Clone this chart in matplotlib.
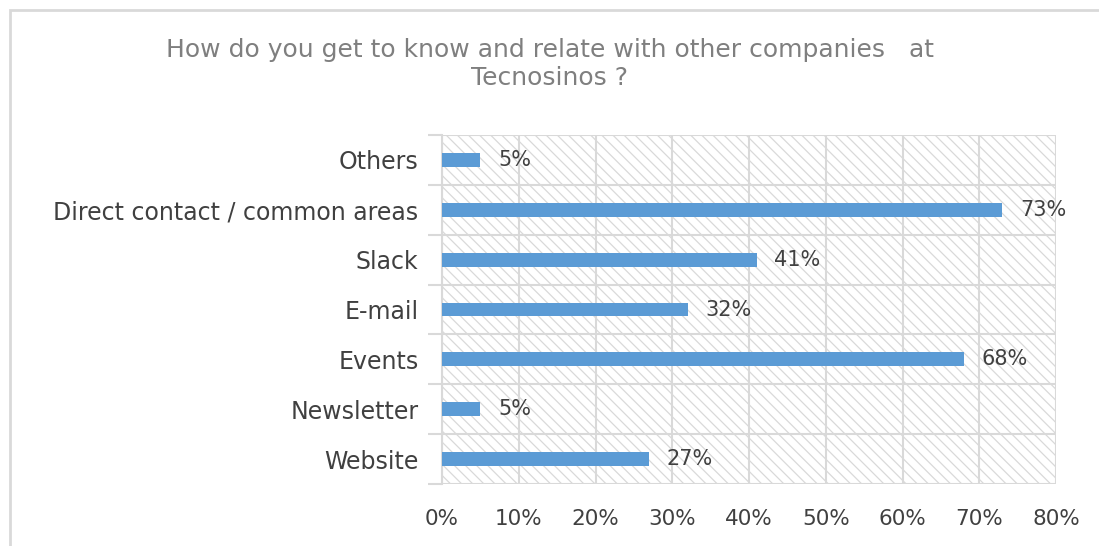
import matplotlib.pyplot as plt
from matplotlib.patches import Rectangle
from matplotlib.ticker import FuncFormatter

# ---------------------------------------------------------------- data
categories = ['Website', 'Newsletter', 'Events', 'E-mail', 'Slack',
              'Direct contact / common areas', 'Others']
values = [27, 5, 68, 32, 41, 73, 5]
x_ticks = [0, 10, 20, 30, 40, 50, 60, 70, 80]

C_BAR, C_GRID, C_TEXT, C_TITLE = '#5B9BD5', '#D9D9D9', '#404040', '#7F7F7F'

plt.rcParams['font.family'] = ['DejaVu Sans']
plt.rcParams['hatch.color'] = '#C8C8C8'
plt.rcParams['hatch.linewidth'] = 0.9

fig = plt.figure(figsize=(10.99, 5.46), dpi=100)
ax = fig.add_axes([442 / 1099, 62 / 546, 614 / 1099, 349 / 546])

# chart border (open at right / bottom, as cropped in the reference)
fig.patches.append(Rectangle((10 / 1099, -0.1), 1.2, 1 - 10 / 546 + 0.1,
                             transform=fig.transFigure, fill=False,
                             edgecolor='#D9D9D9', linewidth=2))

# hatched plot background
ax.add_patch(Rectangle((0, 0), 1, 1, transform=ax.transAxes, facecolor='white',
                       edgecolor=C_GRID, hatch='\\\\\\', linewidth=0, zorder=0))

y = range(len(categories))
ax.barh(y, values, height=0.28, color=C_BAR, zorder=3)
for yi, v in zip(y, values):
    ax.text(v + 2.3, yi, f'{v}%', va='center', ha='left', fontsize=15,
            color=C_TEXT, zorder=4)

ax.set_xlim(0, 80)
ax.set_ylim(-0.5, len(categories) - 0.5)
ax.set_xticks(x_ticks)
ax.xaxis.set_major_formatter(FuncFormatter(lambda v, _: f'{v:.0f}%'))
ax.set_yticks(list(y))
ax.set_yticklabels(categories)
ax.set_yticks([i - 0.5 for i in range(len(categories) + 1)], minor=True)

ax.grid(axis='x', color=C_GRID, linewidth=1.5, zorder=1)
ax.grid(axis='y', which='minor', color=C_GRID, linewidth=1.5, zorder=1)
ax.tick_params(axis='y', which='major', length=0, pad=17, labelsize=17,
               labelcolor=C_TEXT)
ax.tick_params(axis='y', which='minor', length=10, color=C_GRID, width=1.5)
ax.tick_params(axis='x', length=0, pad=18, labelsize=15.5, labelcolor=C_TEXT)
for side in ['top', 'right', 'bottom']:
    ax.spines[side].set_visible(False)
ax.spines['left'].set_color(C_GRID)
ax.spines['left'].set_linewidth(1.5)
ax.set_axisbelow(True)

fig.text(0.5, 1 - 64 / 546, 'How do you get to know and relate with other companies   at\nTecnosinos ?',
         ha='center', va='center', fontsize=18, color=C_TITLE, linespacing=1.25)

fig.savefig('out.png', dpi=100)
